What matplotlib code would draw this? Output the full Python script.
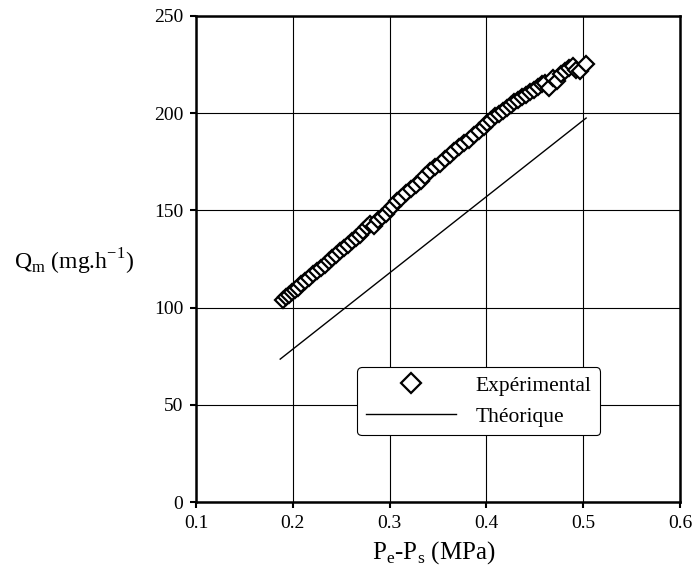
import matplotlib.pyplot as plt

plt.rcParams['font.family'] = ['Liberation Serif', 'DejaVu Serif']

# Experimental points
exp_x = [0.190, 0.193, 0.196, 0.199, 0.202, 0.205, 0.209, 0.213, 0.217, 0.221,
         0.225, 0.229, 0.233, 0.237, 0.241, 0.245, 0.249, 0.253, 0.257, 0.261,
         0.265, 0.269, 0.273, 0.277, 0.280, 0.284, 0.288, 0.292, 0.296, 0.300,
         0.304, 0.308, 0.312, 0.317, 0.322, 0.327, 0.332, 0.337, 0.342, 0.347,
         0.352, 0.357, 0.362, 0.367, 0.372, 0.377, 0.382, 0.387, 0.392, 0.397,
         0.401, 0.405, 0.409, 0.413, 0.417, 0.421, 0.425, 0.429, 0.433, 0.437,
         0.441, 0.445, 0.449, 0.453, 0.457, 0.461, 0.465, 0.469, 0.473, 0.477,
         0.481, 0.485, 0.489, 0.493, 0.497, 0.503]
exp_y = [104.0, 105.3, 106.5, 107.8, 109.1, 110.3, 112.0, 113.7, 115.4, 117.1,
         118.8, 120.5, 122.1, 123.8, 125.5, 127.2, 128.9, 130.6, 132.3, 134.5,
         136.0, 137.5, 139.6, 141.5, 143.0, 141.8, 145.2, 146.5, 148.2, 150.5,
         152.5, 154.8, 156.5, 158.7, 160.9, 163.1, 165.3, 167.6, 170.2, 172.5,
         174.1, 176.4, 178.6, 180.3, 182.7, 184.9, 186.4, 188.8, 191.0, 193.0,
         195.0, 196.5, 198.4, 199.6, 201.0, 202.6, 204.0, 205.5, 207.0, 208.2,
         209.6, 210.8, 212.0, 213.5, 214.8, 215.5, 213.0, 218.0, 216.5, 220.0,
         221.5, 223.5, 224.5, 222.0, 221.5, 225.5]

# Theoretical line
theo_x = [0.187, 0.503]
theo_y = [73.5, 197.5]

x_ticks = [0.1, 0.2, 0.3, 0.4, 0.5, 0.6]
y_ticks = [0, 50, 100, 150, 200, 250]

fig = plt.figure(figsize=(6.92, 5.73), dpi=100)
ax = fig.add_axes([0.2832, 0.1239, 0.6995, 0.8482])

ax.plot(exp_x, exp_y, linestyle='none', marker='D', markersize=8.5,
        markerfacecolor='white', markeredgecolor='black', markeredgewidth=1.6,
        label='Expérimental', zorder=3)
ax.plot(theo_x, theo_y, color='black', linewidth=1.0, label='Théorique', zorder=2)

ax.set_xlim(0.1, 0.6)
ax.set_ylim(0, 250)
ax.set_xticks(x_ticks)
ax.set_yticks(y_ticks)
ax.set_xticklabels(['%.1f' % v for v in x_ticks])
ax.grid(True, color='black', linewidth=0.8)
ax.set_axisbelow(True)

for side in ax.spines.values():
    side.set_linewidth(1.8)
ax.tick_params(direction='out', length=4, width=1.5, labelsize=14, pad=5)

leg = ax.legend(loc='center', bbox_to_anchor=(0.584, 0.207), fontsize=15.5,
                frameon=True, fancybox=True, handlelength=4.2, markerscale=1.15,
                borderpad=0.4, labelspacing=0.5, handletextpad=0.9,
                borderaxespad=0)
leg.get_frame().set_edgecolor('black')
leg.get_frame().set_linewidth(0.8)
leg.get_frame().set_alpha(1)

fig.text(0.627, 0.036, r'P$_\mathregular{e}$-P$_\mathregular{s}$ (MPa)',
         ha='center', va='center', fontsize=18)
fig.text(0.107, 0.543, r'Q$_\mathregular{m}$ (mg.h$^\mathregular{-1}$)',
         ha='center', va='center', fontsize=17)

fig.savefig('out.png', dpi=100)
